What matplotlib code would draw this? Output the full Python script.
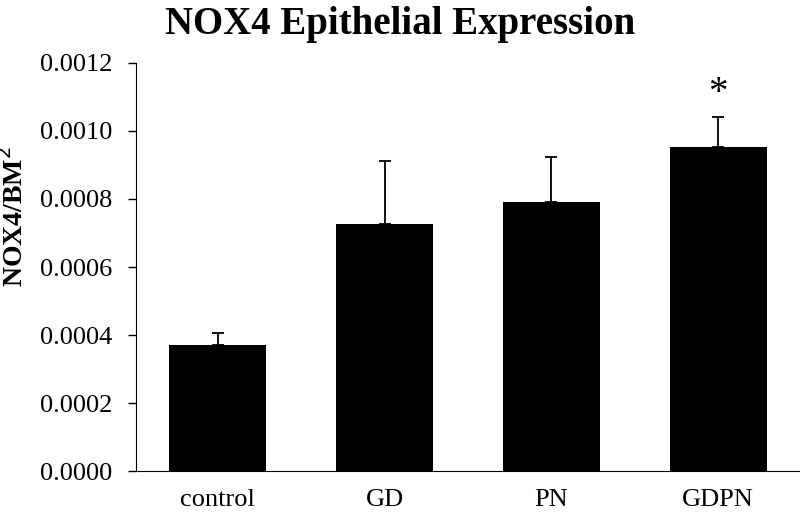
import matplotlib
matplotlib.use("Agg")
import matplotlib.pyplot as plt

# group labels and values
groups = ["control", "GD", "PN", "GDPN"]
means = [0.000371, 0.000726, 0.000792, 0.000952]
errors = [0.000036, 0.000187, 0.000131, 0.000090]
star_group = "GDPN"
star_y = 0.00111

plt.rcParams["font.family"] = ["Liberation Serif", "DejaVu Serif"]

fig = plt.figure(figsize=(8, 5.12), dpi=100)
ax = fig.add_axes([0.17, 0.08, 0.83, 0.797])

x = range(len(groups))
ax.bar(x, means, width=0.58, color="black", zorder=2)
ax.errorbar(x, means, yerr=[[0] * len(errors), errors], fmt="none",
            ecolor="black", elinewidth=1.3, capsize=4, capthick=1.3, zorder=3)

ax.text(groups.index(star_group), star_y, "*", ha="center", va="center",
        fontsize=28)

ax.set_xlim(-0.49, 3.49)
ax.set_ylim(0, 0.0012)
ax.set_yticks([0, 0.0002, 0.0004, 0.0006, 0.0008, 0.0010, 0.0012])
ax.set_yticklabels([f"{v:.4f}" for v in ax.get_yticks()], fontsize=19)
ax.set_xticks(list(x))
ax.set_xticklabels(groups, fontsize=19)
ax.tick_params(axis="x", length=0, pad=13)
ax.tick_params(axis="y", length=6, width=1, pad=11)

ax.spines["top"].set_visible(False)
ax.spines["right"].set_visible(False)

fig.text(0.018, 0.576, "NOX4/BM$^2$", rotation=90, ha="center", va="center",
         fontsize=20, fontweight="bold")
fig.text(0.5, 0.952, "NOX4 Epithelial Expression", ha="center", va="center",
         fontsize=28, fontweight="bold")

fig.savefig("out.png", dpi=100)
